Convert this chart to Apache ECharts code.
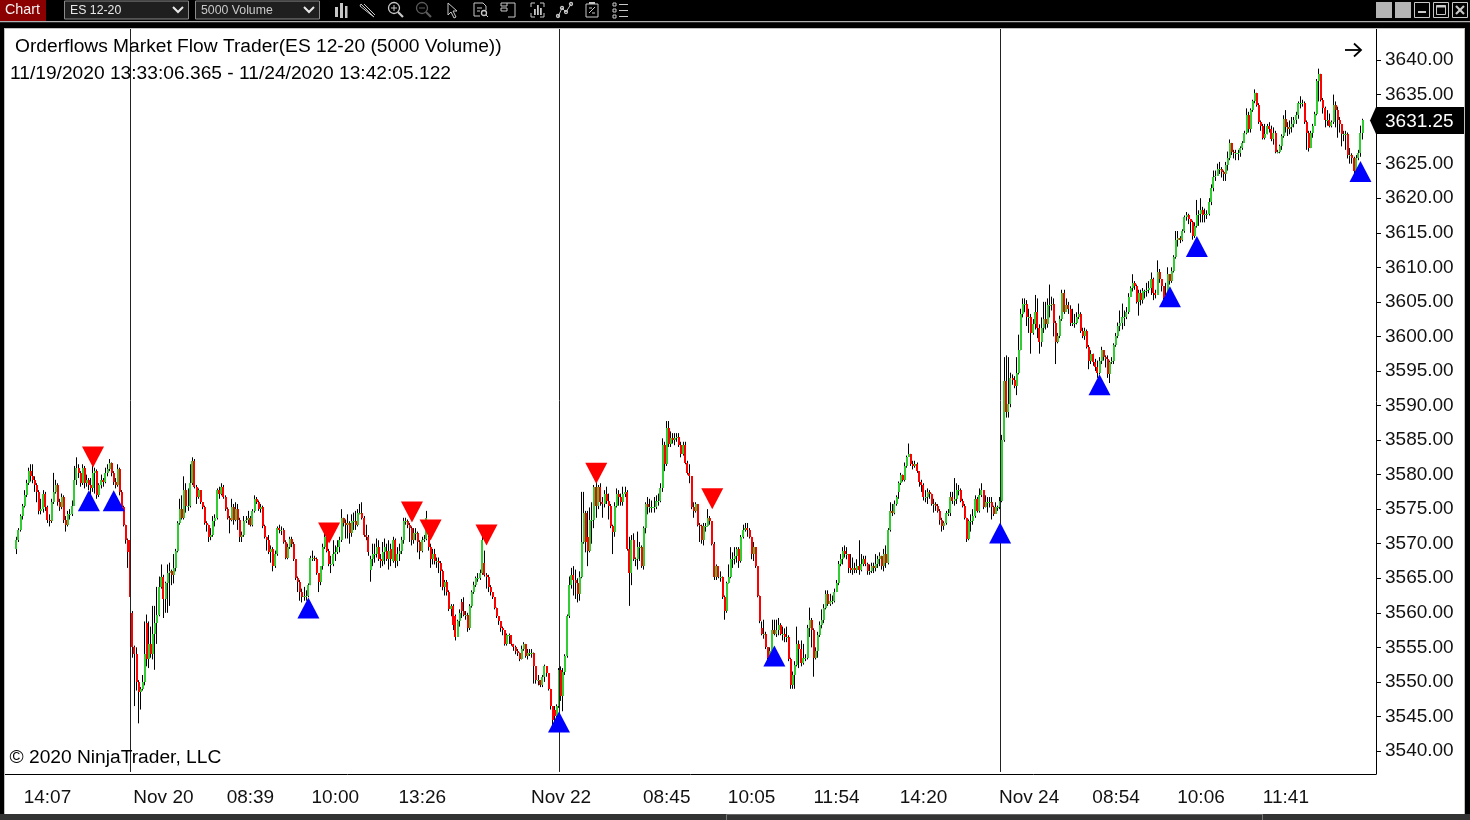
<!DOCTYPE html>
<html><head><meta charset="utf-8"><style>html,body{margin:0;padding:0;background:#000;overflow:hidden}#c{width:1470px;height:820px}</style>
<script src="https://cdn.jsdelivr.net/npm/echarts@6/dist/echarts.min.js"></script></head>
<body><div id="c"></div><script>
const slotCount=662, firstSlot=5;
const tickSlots=[20,76,118,159,201,241,268,277,319,360,401,443,494,536,577,618];
const tickLabels=['14:07','Nov 20','08:39','10:00','13:26','','Nov 22','','08:45','10:05','11:54','14:20','Nov 24','08:54','10:06','11:41'];
const priceTicks=[3540,3545,3550,3555,3560,3565,3570,3575,3580,3585,3590,3595,3600,3605,3610,3615,3620,3625,3630,3635,3640];
const sessionSlots=[60,267,480];
const lastPrice=3631.25;
const buySlots=[40,52,146,267,371,480,528,562,575,654];
const buyPrices=[3576.2,3576.2,3560.7,3544.2,3553.75,3571.55,3593,3605.75,3613,3623.85];
const sellSlots=[42,156,196,205,232,285,341];
const sellPrices=[3582.55,3571.55,3574.6,3572,3571.25,3580.2,3576.5];
const closes=[
3570.5,3572,3574,3575.5,3577,3578.75,3580.5,3579.75,3579.25,3578.5,
3577.5,3574.75,3575,3577.25,3575.25,3573.5,3573.25,3576,3577.5,3578.5,
3576,3575.25,3576.75,3573.5,3572.75,3574.25,3574.25,3575.5,3579.25,3581,
3580.25,3578.75,3581,3578.75,3579.25,3578.5,3578,3580.25,3580.5,3577,
3578.5,3579.25,3579,3580.25,3580.75,3581.75,3580.25,3579,3578.5,3580.75,
3577.5,3575.25,3572.75,3570.5,3568.75,3562.25,3555,3554,3550,3548.5,
3549,3550,3554,3553.25,3555.5,3554,3557,3558.5,3559.75,3563.75,
3565.25,3562,3564.25,3565.75,3566,3565.5,3566.5,3569,3573,3575,
3573.75,3577.75,3575.5,3575.5,3578.75,3582,3578.25,3576.75,3577.75,3576,
3575.25,3573,3572.75,3571,3571.25,3573.25,3573.75,3577.75,3577.25,3578.25,
3576.75,3575,3573.75,3573.5,3575.25,3573.5,3575,3573.5,3571,3571.25,
3573.25,3573.5,3573.75,3572.75,3574.75,3576.5,3576,3575,3575.25,3572.5,
3571,3570.5,3568.75,3569.25,3566.75,3568.5,3572.25,3572,3572,3570.25,
3568,3569.5,3570.75,3570,3567.75,3565,3564.5,3563,3562.25,3562.5,
3562.5,3564,3568,3568,3567.75,3565.75,3564.5,3566.75,3569.5,3571,
3569,3567,3567,3568.5,3568.75,3569.5,3570.5,3573.75,3573,3572.75,
3573,3571.5,3573.25,3573.25,3572.75,3574.5,3574.5,3573.75,3571.25,3571,
3568.75,3567.75,3568.5,3568.5,3569.5,3567.75,3567.5,3568.75,3569.5,3567.75,
3569,3567.75,3570.5,3567.5,3568.5,3569,3570.5,3573.25,3573.25,3572.75,
3572.25,3570.5,3571.5,3571.5,3570.25,3569,3570.5,3570.75,3573.75,3569.5,
3567.75,3568.5,3567.5,3567.5,3567.25,3566,3563.75,3564.5,3563,3560.5,
3561,3558.25,3556.5,3558.75,3560,3560.25,3559.75,3559.75,3557.75,3561,
3563,3564,3565,3565,3565.75,3570.5,3565.5,3565.25,3563.75,3563,
3562.25,3560.75,3559.5,3558.75,3557.75,3557.5,3555.5,3556.75,3556.75,3555.5,
3555,3554.5,3554.25,3553.25,3554.75,3555.5,3553.75,3554.25,3554.25,3554.25,
3552.25,3550.25,3550.25,3549.5,3550.75,3552.25,3551.25,3549,3546.5,3544.5,
3545,3546.5,3551.75,3548,3551.5,3553.75,3559.5,3564,3565.5,3564.75,
3564.25,3562.75,3565.25,3570.25,3574.5,3570.25,3569,3573.5,3573.5,3578.25,
3575.5,3578.25,3576,3575.75,3577.25,3576.25,3575.5,3572.5,3571.75,3575.5,
3577.25,3576.75,3576,3577.25,3577.5,3569.25,3565.75,3570.5,3567.75,3567.75,
3569.5,3569.5,3566.75,3572.25,3575.75,3575.25,3575.25,3575.25,3575.25,3576.25,
3576.25,3578,3584.25,3581.5,3586.75,3584.5,3585.25,3585,3585.25,3585.5,
3584.25,3583,3584.25,3581.75,3580.25,3579.75,3575.25,3574.75,3575.75,3572.75,
3572.5,3570.5,3572.5,3572.5,3573.75,3573.25,3570,3565.25,3566.75,3565.25,
3565.25,3562.25,3560.25,3564.25,3565.25,3567.75,3567.75,3568.25,3569.25,3567.5,
3571,3572,3572.25,3572,3571,3568.5,3569.5,3566.75,3562.5,3558.75,
3557,3557,3555,3553.5,3554.5,3557.5,3557,3557.5,3558.25,3557,
3557,3556.5,3556.5,3553.25,3549.5,3551,3552.5,3555.5,3554.75,3552.75,
3553.5,3553.5,3557.75,3559,3557.5,3553.5,3554.5,3556.75,3558.25,3559,
3560.75,3562.75,3561.25,3561.75,3561.75,3563,3564.25,3567,3567.75,3569,
3568.5,3568.5,3566.5,3566.25,3566.5,3566.25,3566.75,3566.25,3567,3567.75,
3567,3566,3566,3566.75,3566.5,3567,3567.75,3568.25,3566.75,3568.5,
3567.25,3572,3574.75,3574.5,3575.75,3576.75,3578.75,3580,3579.25,3581.25,
3582.5,3583,3581.5,3581.25,3581.5,3580.5,3579,3578.5,3576.75,3576.75,
3577.5,3577.25,3575.75,3575.75,3575.5,3574.75,3573.5,3572.5,3573,3574.5,
3574.5,3576.75,3576.25,3576.5,3577.75,3577.75,3576.25,3575.5,3573.75,3570.75,
3573.25,3573.25,3574,3576.5,3574.75,3577,3577.75,3575.25,3576,3576,
3576,3575.25,3574.25,3575.25,3575.25,3576.25,3585,3593.5,3589,3590.25,
3594,3593.75,3592.75,3594.75,3598,3603.25,3604.75,3604.75,3602.75,3602.75,
3600.5,3601.75,3603.5,3601.25,3599.25,3601.25,3602.5,3601.75,3604.5,3604.5,
3604.75,3602,3599.25,3600,3602.5,3606.25,3603.5,3604.5,3604,3602,
3602,3602,3602.75,3603.25,3600.75,3600,3600.75,3598.5,3596.5,3597.5,
3596.25,3595.5,3594.75,3596.5,3598,3597,3596.75,3594.5,3596.25,3596.5,
3598.75,3600,3601.5,3602,3602.75,3602.75,3603.5,3605.75,3607,3607.75,
3607.25,3605,3606.25,3605.25,3606.5,3606.5,3606.75,3607,3608.25,3606.25,
3606,3609.25,3608.25,3607.25,3605.5,3606,3609,3608,3609.5,3611.5,
3614,3614.25,3614,3615.25,3617.25,3617.5,3617,3616.5,3614.5,3616,
3617.5,3617.75,3618.25,3617.5,3617.75,3617.75,3619.5,3621.5,3623,3623.25,
3624.25,3624.25,3623.75,3623.5,3624.75,3625.75,3628,3626.75,3626.5,3626.5,
3626.5,3627.25,3628,3629.5,3632,3630,3632.75,3634,3635.25,3633.5,
3631,3630.5,3628.75,3629.25,3630.5,3630,3628.5,3629.5,3626.75,3626.75,
3627.5,3629,3631.5,3630.25,3630,3630.25,3630.75,3631.25,3632,3633.75,
3633.75,3633.75,3631,3629.5,3627.25,3629.5,3630.5,3632.25,3637,3638,
3634.25,3633,3631.25,3631.25,3630.5,3631,3633.5,3632.75,3631.25,3630.75,
3629.25,3629.25,3629.25,3626.25,3626.25,3625.75,3624,3625.75,3626.5,3629.5,
3631.25];
const opens=[
3569.25,3570.5,3572,3574,3575.5,3577,3578.75,3580.5,3579.75,3579.25,
3578.5,3577.5,3574.75,3575,3577.25,3575.25,3573.5,3573.25,3576,3577.5,
3578.5,3576,3575.25,3576.75,3573.5,3572.75,3574.25,3574.25,3575.5,3579.25,
3581,3580.25,3578.75,3581,3578.75,3579.25,3578.5,3578,3580.25,3580.5,
3577,3578.5,3579.25,3579,3580.25,3580.75,3581.75,3580.25,3579,3578.5,
3580.75,3577.5,3575.25,3572.75,3570.5,3570.5,3560,3555,3554,3550,
3548.5,3549,3550,3558.5,3553.25,3555.5,3554,3557,3558.5,3559.75,
3563.75,3565.25,3562,3564.25,3565.75,3566,3565.5,3566.5,3569,3573,
3575,3573.75,3577.75,3575.5,3575.5,3578.75,3582,3578.25,3576.75,3577.75,
3576,3575.25,3573,3572.75,3571,3571.25,3573.25,3573.75,3577.75,3577.25,
3578.25,3576.75,3575,3573.75,3573.5,3575.25,3573.5,3575,3573.5,3571,
3571.25,3573.25,3573.5,3573.75,3572.75,3574.75,3576.5,3576,3575,3575.25,
3572.5,3571,3570.5,3568.75,3569.25,3566.75,3568.5,3572.25,3572,3572,
3570.25,3568,3569.5,3570.75,3570,3567.75,3565,3564.5,3563,3562.25,
3562.5,3562.5,3564,3568,3568,3567.75,3565.75,3564.5,3566.75,3569.5,
3571,3569,3567,3567,3568.5,3568.75,3569.5,3570.5,3573.75,3573,
3572.75,3573,3571.5,3573.25,3573.25,3572.75,3574.5,3574.5,3573.75,3571.25,
3571,3566.25,3567.75,3568.5,3568.5,3569.5,3567.75,3567.5,3568.75,3569,
3567.75,3569.25,3567.5,3570.5,3567.5,3568.5,3569,3570.5,3573.25,3573.25,
3572.75,3572.25,3570.5,3571.5,3571.5,3570.25,3569,3570.5,3570.75,3571,
3569.5,3567.75,3568.5,3567.5,3567.5,3567.25,3566,3563.75,3564.5,3563,
3560.5,3561,3559.5,3556.5,3558.75,3561.5,3560.25,3559.75,3559.75,3557.75,
3561,3563,3564,3565,3565,3565.75,3567.25,3565.5,3565.25,3563.75,
3563,3562.25,3560.75,3559.5,3558.75,3557.75,3557.5,3555.5,3556.75,3556.75,
3555.5,3555,3554.5,3554.25,3553.25,3554.75,3555.5,3553.75,3554.25,3554.25,
3554.25,3552.25,3550.25,3550.25,3549.5,3550.75,3552.25,3551.25,3549,3546.5,
3546,3545,3546.5,3551.75,3548,3551.5,3553.75,3559.5,3564,3565.5,
3564.75,3564.25,3562.75,3565.25,3570.25,3574.5,3571,3569,3573.5,3573.5,
3578.25,3575.5,3578.25,3576,3575.75,3577.25,3576.25,3575.5,3572.5,3571.75,
3575.5,3577.25,3576.75,3576,3577.25,3577.5,3569.25,3565.75,3570.5,3567.75,
3567.75,3569.5,3569.5,3566.75,3572.25,3575.75,3575.25,3575.25,3575.25,3575.25,
3576.25,3576.25,3578,3584.25,3581.5,3586.75,3584.5,3585.25,3585,3585.25,
3585.5,3584.25,3583,3584.25,3581.75,3580.25,3579.75,3575.25,3574.75,3575.75,
3572.75,3572.5,3570.5,3572.5,3572.5,3573.75,3573.25,3570,3565.25,3566.75,
3565.25,3565.25,3562.25,3560.25,3564.25,3565.25,3567.75,3567.75,3568.25,3569.25,
3567.5,3571,3572,3572.25,3572,3571,3568.5,3569.5,3566.75,3562.5,
3557.75,3557,3557,3555,3553.5,3554.5,3557.5,3557,3557.5,3558.25,
3557,3557,3556.5,3556.5,3553.25,3549.5,3551,3552.5,3555.5,3554.75,
3552.75,3553.5,3553.5,3557.75,3559,3557.5,3553.5,3554.5,3556.75,3558.25,
3559,3560.75,3562.75,3561.25,3561.75,3561.75,3563,3564.25,3567,3567.75,
3569,3568.5,3568.5,3566.5,3566.25,3566.5,3566.25,3566.75,3566.25,3567,
3567.75,3567,3566,3566,3566.75,3566.5,3567,3567.75,3568.25,3566.75,
3568.5,3567.25,3572,3574.75,3574.5,3575.75,3577.5,3578.75,3580,3579.25,
3581.25,3582.5,3583,3581.5,3581.25,3581.5,3580.5,3579,3578.5,3576.75,
3576.75,3577.5,3577.25,3575.75,3575.75,3575.5,3574.75,3573.5,3572.5,3573,
3574.5,3574.5,3576.75,3576.25,3576.5,3577.75,3577.75,3576.25,3575.5,3573.75,
3570.75,3573.25,3573.25,3574,3576.5,3574.75,3577,3577.75,3575.25,3576,
3576,3576,3575.25,3574.25,3575.25,3575.25,3576.25,3585,3593.5,3589,
3590.25,3594,3593.75,3592.75,3594.75,3598,3603.25,3604.75,3604.75,3602.75,
3602.75,3600.5,3601.75,3603.5,3601.25,3599.25,3601.25,3602.5,3601.75,3604.5,
3604.5,3604.75,3602,3599.25,3600,3602.5,3606.25,3603.5,3604.5,3604,
3602,3602,3602,3602.75,3603.25,3600.75,3600,3600.75,3598.5,3596.5,
3597.5,3596.25,3595.5,3594.75,3596.5,3598,3597,3596.75,3594.5,3596.25,
3596.5,3598.75,3600,3601.5,3602,3602.75,3602.75,3603.5,3605.75,3607,
3607.75,3607.25,3605,3606.25,3605.25,3606.5,3606.5,3606.75,3607,3608.25,
3606.25,3606,3609.25,3608.25,3607.25,3605.5,3606,3609,3608,3609.5,
3611.5,3614,3614.25,3614,3615.25,3617.25,3617.5,3617,3616.5,3614.5,
3616,3617.5,3617.75,3618.25,3617.5,3617.75,3617.75,3619.5,3621.5,3623,
3623.25,3624.25,3624.25,3623.75,3623.5,3624.75,3625.75,3628,3626.75,3626.5,
3626.5,3626.5,3627.25,3628,3629.5,3632,3630,3632.75,3634,3635.25,
3633.5,3631,3630.5,3628.75,3629.25,3630.5,3630,3628.5,3629.5,3626.75,
3626.75,3627.5,3629,3631.5,3630.25,3630,3630.25,3630.75,3631.25,3632,
3633.75,3633.75,3633.75,3631,3629.5,3627.25,3629.5,3630.5,3632.25,3637,
3638,3634.25,3633,3631.25,3631.25,3630.5,3631,3633.5,3632.75,3631.25,
3630.75,3629.25,3629.25,3629.25,3626.25,3626.25,3625.75,3624,3625.75,3626.5,
3629.5];
const highs=[
3571,3572.25,3574.25,3575.75,3577.75,3579.25,3581,3581.5,3581.5,3579.75,
3578.75,3577.75,3576.5,3577.75,3577.5,3575.5,3574.25,3576.5,3580.25,3579.25,
3578.75,3576.5,3577.25,3577,3574,3574.75,3575,3576.25,3581.25,3582.5,
3581.5,3580.5,3581.5,3581.25,3580,3579.5,3579.5,3581.25,3581,3580.75,
3578.75,3580,3579.5,3581,3581.5,3582.25,3581.75,3580.5,3579.5,3581.5,
3581,3577.75,3575.5,3572.75,3570.75,3570.75,3560.25,3555.25,3555,3550.25,
3549.25,3551,3558.75,3559.75,3558.75,3558,3561,3561,3563.75,3565.25,
3567,3565.5,3564.5,3567,3567.25,3566.25,3568.5,3569.25,3573.25,3576.5,
3577,3579.75,3578.75,3578,3581.5,3582.5,3582.25,3578.5,3578,3577.75,
3576,3575.5,3573.25,3572.75,3572.25,3574,3574.25,3578,3578.25,3578.75,
3578.5,3577,3575.25,3574,3576.5,3575.75,3576,3575.75,3573.75,3571.75,
3574,3574,3574.75,3574,3575,3577,3576.75,3576.25,3575.75,3575.5,
3572.75,3571,3571.25,3569.75,3569.5,3569,3572.5,3572.75,3572.5,3572.25,
3570.5,3570,3571,3571,3570.25,3567.75,3565.25,3564.75,3563.5,3563.75,
3563.25,3564.25,3568.25,3569,3568.25,3568,3565.75,3566.75,3570,3571.75,
3571,3569.25,3568.25,3570.5,3569.75,3570.5,3571,3575,3573.75,3573.5,
3574.25,3573.25,3574.25,3574.5,3574.75,3575,3575.75,3576,3574,3572.75,
3571.25,3568.25,3570,3570,3570.75,3570.5,3568.5,3570.25,3570.75,3570,
3570.5,3570,3571,3570.75,3569.5,3570,3571,3573.75,3573.75,3573.5,
3573,3572.5,3572.25,3572.25,3571.75,3570.5,3571,3571.25,3574.75,3571.25,
3570,3569.25,3569.25,3568,3568,3567.5,3566.25,3564.75,3564.75,3563.25,
3561.25,3561.25,3559.75,3559,3560.5,3562,3562.25,3560.25,3560,3561.25,
3563.25,3564.5,3565.25,3565.75,3566.25,3571,3569,3565.75,3565.5,3564,
3563,3562.25,3560.75,3559.5,3558.75,3558,3557.5,3557,3557,3556.75,
3555.5,3555.25,3554.75,3554.25,3555.25,3555.75,3555.5,3554.75,3554.75,3554.75,
3554.25,3552.25,3551,3550.25,3551,3552.5,3552.25,3551.25,3549,3546.5,
3546.5,3546.75,3552,3552.25,3552,3554,3559.75,3565.25,3566.5,3566.75,
3566.25,3565,3566,3577.5,3577.5,3574.75,3574.75,3575.25,3576,3578.5,
3579,3578.5,3578.75,3576.75,3577.75,3578.25,3577.25,3575.75,3572.75,3576,
3578,3577.75,3577.25,3578.25,3578.25,3577.75,3571,3571.25,3571.5,3568,
3571.75,3570.25,3569.75,3572.5,3576,3576.75,3576.5,3576.25,3576.75,3577,
3577.25,3578.75,3585.25,3584.75,3587.75,3587.75,3586.25,3586,3586,3586,
3586,3584.75,3584.75,3584.75,3582,3581.5,3579.75,3576,3576,3575.75,
3573,3572.75,3573,3573,3575,3574,3573.25,3570.25,3567,3566.75,
3566,3565.25,3562.5,3564.5,3567,3569.5,3568.75,3569.5,3569.5,3569.5,
3571.25,3572.75,3573,3573,3572.25,3571,3570.25,3569.5,3566.75,3562.5,
3558.75,3559,3557.25,3555,3555,3559,3559,3559,3559.25,3558.5,
3558,3557.75,3558,3556.75,3553.5,3551.5,3553,3558,3556,3556,
3555.5,3554,3558.25,3560.75,3559.25,3557.75,3555,3557.25,3558.75,3560.5,
3561.25,3563.25,3563.25,3562.75,3562.5,3563.5,3564.75,3567.5,3568.5,3569.5,
3569.75,3569.5,3568.5,3568.5,3568,3567.25,3567.75,3570.5,3568.5,3568.25,
3568.25,3567.25,3567,3567.25,3567.25,3568.5,3568.25,3568.75,3568.25,3569.25,
3569.75,3572.25,3576,3575.75,3576.25,3577,3579,3580.25,3580,3581.75,
3582.75,3584.5,3583,3582,3582,3581.75,3580.5,3579.25,3578.75,3577.75,
3578,3577.75,3577.25,3576.5,3576,3575.75,3575,3573.75,3573.25,3574.75,
3575,3577.5,3577.5,3579.5,3578.75,3578.5,3578,3576.5,3575.75,3573.75,
3573.5,3574.25,3575,3577,3576.75,3578,3578.75,3577.75,3577,3576.75,
3576.75,3576.75,3575.5,3576,3575.5,3576.75,3585.75,3597,3597.25,3597,
3594.75,3594.5,3594.25,3597,3600.25,3604,3605.5,3605.5,3605.25,3604,
3603.25,3602.5,3606,3605.5,3601.75,3602.75,3605,3605,3605.5,3607.5,
3605.75,3605.5,3602.25,3600.5,3603,3606.75,3606.75,3605.5,3605,3604.5,
3604,3603.25,3603.5,3604.75,3603.5,3601.25,3601.25,3601,3598.75,3598,
3597.5,3596.75,3596.5,3597,3598.5,3598,3597.25,3597.25,3596.5,3597,
3599,3600.5,3602,3603.75,3604.75,3603.75,3604.25,3606.25,3607.25,3609,
3608,3607.5,3606.75,3606.75,3607,3606.75,3607.75,3608,3609.25,3608.5,
3606.75,3611,3609.75,3608,3607.25,3607.75,3610,3609,3610,3611.75,
3615.25,3615.25,3614.5,3615.5,3617.5,3618,3617.75,3617,3616.75,3616.5,
3619.75,3618.25,3620,3618.75,3618.5,3618.25,3620,3622,3624,3624,
3625,3625.25,3624.5,3624,3625.25,3626.75,3628.5,3628,3627,3627,
3627,3627.5,3628.25,3629.75,3633,3632.5,3633,3634.25,3635.75,3635.25,
3633.75,3631.25,3630.75,3630.75,3630.75,3631,3630.5,3630.25,3629.75,3627,
3627.75,3629.25,3632,3632.75,3631,3631.25,3631.75,3631.75,3632.5,3634,
3634.75,3634.25,3634,3631.25,3629.75,3629.75,3630.75,3632.5,3637.25,3638.75,
3638,3634.5,3633.25,3632.75,3632.25,3631.25,3635,3634,3633.25,3631.75,
3630.75,3629.75,3629.75,3629.5,3627.25,3626.5,3626,3626.25,3627,3630.5,
3631.5];
const lows=[
3568.5,3570.25,3571.75,3573.5,3575.25,3576.75,3578.5,3579,3578.75,3577.5,
3576,3574.25,3574.25,3574.5,3574.75,3573,3572.5,3573,3575.75,3577.25,
3575.5,3574.75,3575,3573,3571.75,3572.5,3573.5,3574,3575.5,3578.5,
3579.5,3578.25,3578.5,3578,3578.25,3577.75,3577,3577.5,3577.25,3576.5,
3576.75,3578,3578.25,3578.75,3579.75,3580.5,3579.75,3578.5,3578,3578.25,
3577,3575,3572.5,3570,3566.5,3562,3553.5,3546.5,3548.75,3544,
3546,3548.75,3549.5,3552.25,3552,3553.5,3553.25,3551.75,3555.5,3559.5,
3563.5,3559.25,3560,3560,3561,3564,3564.25,3566,3568.75,3572.75,
3573.5,3573.5,3574.5,3574.75,3575.25,3578.5,3578,3575.75,3576.5,3575.75,
3575,3572.75,3571.75,3570.25,3570.5,3571,3572.5,3573.5,3576.5,3577,
3576.5,3574.75,3573.5,3571.5,3573.25,3572.75,3573.25,3572,3570.25,3570.25,
3571,3573,3572.75,3572.5,3572.5,3574.5,3575.75,3574.75,3574.5,3572.25,
3570.75,3569,3568.5,3567.25,3566,3566.5,3568.25,3571.5,3571.25,3570,
3567.75,3567.75,3569.25,3569.5,3567.5,3564.75,3563,3561.75,3561.5,3561.75,
3561.75,3562.25,3564,3567.5,3567.5,3565.5,3563,3564,3566.25,3569.25,
3568.75,3566.75,3565.75,3566.75,3567.5,3568.5,3568.75,3570.25,3572.5,3570.75,
3570.75,3570,3571,3572,3572,3572.5,3574.25,3573.5,3571,3570.5,
3568.25,3564.5,3566.75,3567.25,3568,3567.5,3566.5,3566.75,3567,3567.5,
3566.25,3566.75,3567.25,3566.5,3566.75,3567.5,3568.5,3570,3572.75,3572.25,
3570.25,3569.75,3570,3570.5,3568.75,3567.75,3568.75,3570.25,3570.5,3569,
3566.5,3567,3567,3566.5,3565.75,3563.75,3563.25,3562.5,3562.5,3560.25,
3559.5,3557.5,3556,3557,3558,3559.25,3559.5,3559,3557.25,3557.5,
3560.75,3562.75,3563.75,3564.5,3564.75,3565.5,3565.25,3563.5,3563,3562.5,
3562,3560.5,3559.25,3558.25,3557.25,3556.75,3555.25,3555.25,3555.5,3555.25,
3554.5,3554,3553.75,3553,3553.25,3554.5,3553.5,3553.25,3553.75,3553.5,
3549.75,3549.75,3549.5,3549.25,3549.25,3550,3550.75,3548.75,3546,3543.5,
3544.25,3544.5,3546.25,3547.25,3545.75,3551,3553.5,3559.25,3563.5,3562.5,
3562,3561.5,3561.75,3565,3570,3568.75,3566.75,3568.75,3570,3572.25,
3573.75,3575,3575.5,3573.75,3575.25,3575.75,3573.5,3572.25,3568.5,3571,
3575.25,3575.5,3575.5,3575.5,3576.75,3569,3561,3564,3567.5,3566.75,
3566.25,3567.5,3566.5,3566.25,3571.5,3574.25,3574.5,3574.5,3574.5,3575,
3575.5,3576,3577.5,3580.5,3581.25,3584,3584,3584.5,3584.25,3584.75,
3584,3582.5,3582.75,3581.5,3580,3578.75,3575,3573.75,3574.5,3572.5,
3570.25,3570,3569.75,3571.75,3572.5,3572.75,3569.75,3564.75,3564.75,3565,
3564.5,3562,3559,3560,3564.25,3565,3566.5,3567,3567.25,3566.5,
3567.25,3570.75,3571.75,3571,3570.75,3567.75,3567.5,3566.5,3562.25,3558.5,
3556.75,3556.25,3554.75,3553.25,3552.5,3554.25,3556.75,3556.5,3556.75,3556.75,
3556,3555.75,3555.75,3553,3549,3549,3549,3552.25,3552,3552.25,
3552.5,3553,3553.25,3556.5,3555,3550.75,3553.25,3553.5,3556.5,3557.75,
3558.5,3560.5,3561,3561,3561.25,3561.5,3563,3564,3566.75,3567,
3568,3567.75,3565.75,3565.75,3565.5,3565.75,3565.75,3565.5,3566,3566.75,
3566.75,3565.5,3565.5,3565.75,3565.75,3566,3566.5,3566.75,3566.25,3566,
3566.5,3567,3571.75,3574,3574.25,3575.5,3576.5,3578.5,3579,3579,
3581,3582.75,3581.25,3580.75,3581,3580.25,3578.25,3577.5,3576.25,3576,
3575.75,3576.5,3575.5,3574.5,3574.75,3574.5,3572.75,3571.75,3572,3572.75,
3574,3574,3575.75,3575.5,3575.75,3577,3576,3575.25,3573.5,3570.25,
3570.5,3571.75,3572.75,3573.75,3574.5,3574.5,3576.75,3575,3575.25,3574.5,
3575.25,3573.5,3574,3574.5,3574.75,3575,3576,3584.75,3588.25,3588.25,
3589.75,3593,3592.5,3591.5,3594.5,3598,3602.75,3603.5,3601.5,3600.5,
3597.5,3600.25,3601,3599.75,3597.5,3598.5,3600.5,3601,3601.25,3602.75,
3603.75,3600,3596,3599,3599.75,3602.25,3603.25,3603.75,3603.25,3601.5,
3601.5,3601.25,3601.75,3602.5,3600.5,3599.75,3599.5,3598.25,3595.25,3596,
3595.75,3595,3594,3594.5,3596,3596.5,3595.5,3594,3593.25,3596,
3596,3598.5,3599.75,3600.75,3601,3601.5,3602.5,3603.25,3605.75,3606.5,
3606.75,3604.75,3603,3604.5,3604.75,3605.5,3605.75,3606.25,3606,3605.25,
3605.5,3606,3607.75,3606.5,3605,3605.25,3605.75,3607.5,3607.75,3609.25,
3611.25,3613,3613.5,3613.75,3615,3616.75,3616.25,3615,3614,3614.25,
3615.75,3616,3616.5,3616.5,3616.5,3617,3617.5,3619,3621,3622.5,
3623.5,3623.5,3623,3622.5,3622.5,3624,3625.5,3626.25,3625.75,3625.5,
3625.5,3626,3627,3628,3629.25,3629.5,3629.5,3632.5,3633.75,3633.25,
3630.75,3629.75,3628.5,3628.5,3629.25,3629.5,3628.25,3627.75,3626.5,3626.5,
3626.5,3627,3628.75,3629.5,3629,3629.25,3629.5,3630.25,3630.75,3631.5,
3633,3633.25,3630.75,3627,3626.75,3627.25,3628.75,3630.5,3632,3634,
3634,3632.25,3630.25,3630.5,3630.25,3630.25,3630.75,3630.25,3628.75,3629.5,
3627.5,3628.25,3627,3625.75,3625,3625,3623.5,3623.75,3625.5,3626,
3628.5];
const titleText='Orderflows Market Flow Trader(ES 12-20 (5000 Volume))';
const rangeText='11/19/2020 13:33:06.365 - 11/24/2020 13:42:05.122';
const copyText='© 2020 NinjaTrader, LLC';

const FONT='"Liberation Sans", Arial, sans-serif';
const GREEN='#32cd32', RED='#ff0000';
const slots=Array.from({length:slotCount},(_,i)=>{const k=tickSlots.indexOf(i);return k>=0?tickLabels[k]:'';});
const isTick=i=>tickSlots.includes(i);
const bodyData=closes.map((c,i)=>[firstSlot+i,opens[i],c]);
const wickData=closes.map((c,i)=>[firstSlot+i,lows[i],highs[i],lows[i],highs[i]]);
const pricePad0=3540-23/6.91, pricePad1=3640+31/6.91;

const g=[];
const ICON='#c8c8c8', DIM='#5c5c5c';
const rect=(x,y,w,h,fill,stroke,z)=>g.push({type:'rect',silent:true,z:z??1,shape:{x,y,width:w,height:h},style:{fill:fill||'transparent',stroke:stroke||null,lineWidth:1}});
const poly=(pts,stroke,w,z)=>g.push({type:'polyline',silent:true,z:z??2,shape:{points:pts},style:{fill:null,stroke:stroke||ICON,lineWidth:w||1}});
const circ=(cx,cy,r,stroke)=>g.push({type:'circle',silent:true,z:2,shape:{cx,cy,r},style:{fill:null,stroke:stroke||ICON,lineWidth:1.3}});
const txt=(x,y,t,size,fill,z)=>g.push({type:'text',silent:true,z:z??3,x,y,style:{text:t,fontFamily:FONT,fontSize:size,fill,verticalAlign:'middle'}});

// window frame
g.push({type:'rect',silent:true,z:-5,shape:{x:5,y:29,width:1459,height:785},style:{fill:'#fff'}});
rect(0,21,1470,1.2,'#b0b0b0');
rect(4,28,1461,1,'#c0c0c0');
rect(1464,28,1,786,'#c0c0c0');
rect(4,28,1,786,'#c0c0c0');
rect(0,814,1470,6,'#333333');
rect(726,814,1,6,'#777');rect(1262,814,1,6,'#777');rect(726,814,536,1,'#666');
// tab and selectors
rect(0,0,46,21,'#8b0000');
txt(5,10.5,'Chart',14.3,'#f2f2f2');
rect(64.5,1,124,18,'#1f1f1f','#8a8a8a');
txt(70,10.5,'ES 12-20',12.3,'#e8e8e8');
poly([[173,7],[178,12],[183,7]],'#e8e8e8',2);
rect(195.5,1,124,18,'#1f1f1f','#8a8a8a');
txt(201,10.5,'5000 Volume',12.3,'#c8c8c8');
poly([[304,7],[309,12],[314,7]],'#e8e8e8',2);
// toolbar glyphs
rect(335,7,3,10,ICON);rect(340,3,3,15,ICON);rect(345,6,2.5,12,ICON);
poly([[361,4],[371,14],[374,17],[370,14],[360,6],[361,4]]);poly([[364,4],[375,15]]);
circ(394,8,5.5);poly([[391,8],[397,8]]);poly([[394,5],[394,11]]);poly([[398,12],[403,17]],ICON,2.2);
circ(422,8,5.5,DIM);poly([[419,8],[425,8]],DIM);poly([[426,12],[431,17]],DIM,2.2);
poly([[448,3],[448,15],[451,12],[454,18],[456,17],[453,11],[457,11],[448,3]]);
poly([[480,16],[474,16],[474,3],[483,3],[486,6],[486,10]]);poly([[477,8],[482,8]]);poly([[477,11],[480,11]]);circ(484,13,2.5);poly([[486,15],[488,17]]);
rect(501,3,6,3,null,ICON);rect(501,8,6,3,null,ICON);poly([[507,3],[515,3],[515,17],[508,17]]);
poly([[531,7],[531,3],[535,3]]);poly([[540,3],[544,3],[544,7]]);poly([[531,13],[531,17],[535,17]]);poly([[540,17],[544,17],[544,13]]);rect(534,9,1.8,6,ICON);rect(537,5,1.8,10,ICON);rect(540,8,1.8,7,ICON);
poly([[558,17],[562,8],[566,12],[571,4]]);circ(558,16,1.5);circ(562,8,1.5);circ(566,12,1.5);circ(571,4,1.5);
rect(586,4,12,13,null,ICON);poly([[589,3],[595,3]],ICON,2);poly([[589,13],[595,7]]);poly([[589,8],[592,8]]);poly([[592,13],[595,13]]);
rect(613,3,3,3,null,ICON);rect(613,9,3,3,null,ICON);rect(613,15,3,3,null,ICON);poly([[619,4.5],[628,4.5]]);poly([[619,10.5],[628,10.5]]);poly([[619,16.5],[628,16.5]]);
// window buttons
rect(1376,2,16,16,'#b4b4b4');rect(1395,2,16,16,'#b4b4b4');
rect(1414.5,2.5,15,15,null,'#c8c8c8');rect(1418,11,8,2,'#c8c8c8');
rect(1433.5,2.5,15,15,null,'#c8c8c8');rect(1436.5,5.5,9,9,null,'#c8c8c8');rect(1436.5,5.5,9,2,'#c8c8c8');
rect(1452.5,2.5,15,15,null,'#c8c8c8');poly([[1456,6],[1464,14]],'#c8c8c8',2.2);poly([[1464,6],[1456,14]],'#c8c8c8',2.2);
// top-right arrow
poly([[1345,50],[1361,50]],'#000',1.8,6);poly([[1354,43.5],[1361,50],[1354,56.5]],'#000',1.8,6);

const chart=echarts.init(document.getElementById('c'),null,{renderer:'canvas'});
const titleFont={fontFamily:FONT,fontSize:19.2,fontWeight:'normal',color:'#000'};
const option={
  animation:false,backgroundColor:'#000',
  title:[
    {text:titleText,left:10,top:32,textStyle:titleFont},
    {text:rangeText,left:5,top:59,textStyle:titleFont},
    {text:copyText,left:4.5,top:743,textStyle:{...titleFont,fontSize:19.2}}
  ],
  grid:{left:5,right:94,top:29,bottom:46,containLabel:false},
  tooltip:{show:false},
  xAxis:{type:'category',data:slots,boundaryGap:true,
    axisLine:{lineStyle:{color:'#000',width:1}},
    axisTick:{alignWithLabel:true,length:5,lineStyle:{color:'#000'},interval:i=>isTick(i)},
    axisLabel:{interval:i=>isTick(i),color:'#111',fontFamily:FONT,fontSize:19,margin:14.5,hideOverlap:false},
    splitLine:{show:false}},
  yAxis:{type:'value',position:'right',min:pricePad0,max:pricePad1,scale:true,
    axisLine:{show:true,lineStyle:{color:'#000',width:1}},
    axisTick:{show:true,length:5,lineStyle:{color:'#000'},customValues:priceTicks},
    axisLabel:{color:'#111',fontFamily:FONT,fontSize:19,margin:9,align:'left',padding:[6,0,0,0],customValues:priceTicks,formatter:v=>v.toFixed(2)},
    splitLine:{show:false}},
  series:[
    {type:'candlestick',name:'range',data:wickData,encode:{x:0,y:[1,2,3,4]},barWidth:1,z:2,silent:true,large:false,progressive:0,
      itemStyle:{color:'#000',color0:'#000',borderColor:'#000',borderColor0:'#000',borderWidth:1},
      markLine:{silent:true,symbol:'none',animation:false,label:{show:false},lineStyle:{color:'#222',width:1,type:'solid'},
        data:sessionSlots.map(s=>[{xAxis:s,yAxis:pricePad0+0.3},{xAxis:s,yAxis:pricePad1}])}},
    {type:'custom',name:'ES 12-20',data:bodyData,encode:{x:0,y:[1,2]},z:3,silent:true,progressive:0,
      renderItem:(p,api)=>{
        const a=api.coord([api.value(0),api.value(1)]),b=api.coord([api.value(0),api.value(2)]);
        const top=Math.round(Math.min(a[1],b[1])),bot=Math.round(Math.max(a[1],b[1]));
        return {type:'rect',shape:{x:Math.round(a[0])-1,y:top,width:2,height:Math.max(1,bot-top)},
          style:{fill:api.value(2)>=api.value(1)?GREEN:RED}};
      }},
    {type:'scatter',name:'buy',data:buySlots.map((s,i)=>[s,buyPrices[i]]),symbol:'triangle',symbolSize:[22,21],z:5,silent:true,itemStyle:{color:'#0000ff',opacity:1}},
    {type:'scatter',name:'sell',data:sellSlots.map((s,i)=>[s,sellPrices[i]]),symbol:'triangle',symbolRotate:180,symbolSize:[22,21],z:5,silent:true,itemStyle:{color:'#ff0000',opacity:1}}
  ],
  graphic:g
};
chart.setOption(option);
// current price flag follows the y scale
const py=chart.convertToPixel({yAxisIndex:0},lastPrice);
g.push({type:'polygon',silent:true,z:50,shape:{points:[[1370,py],[1376,py-13.5],[1464,py-13.5],[1464,py+13.5],[1376,py+13.5]]},style:{fill:'#000'}});
g.push({type:'text',silent:true,z:51,x:1385,y:py+1,style:{text:lastPrice.toFixed(2),fontFamily:FONT,fontSize:19,fill:'#fff',verticalAlign:'middle'}});
chart.setOption({graphic:g},{replaceMerge:['graphic']});
</script></body></html>
